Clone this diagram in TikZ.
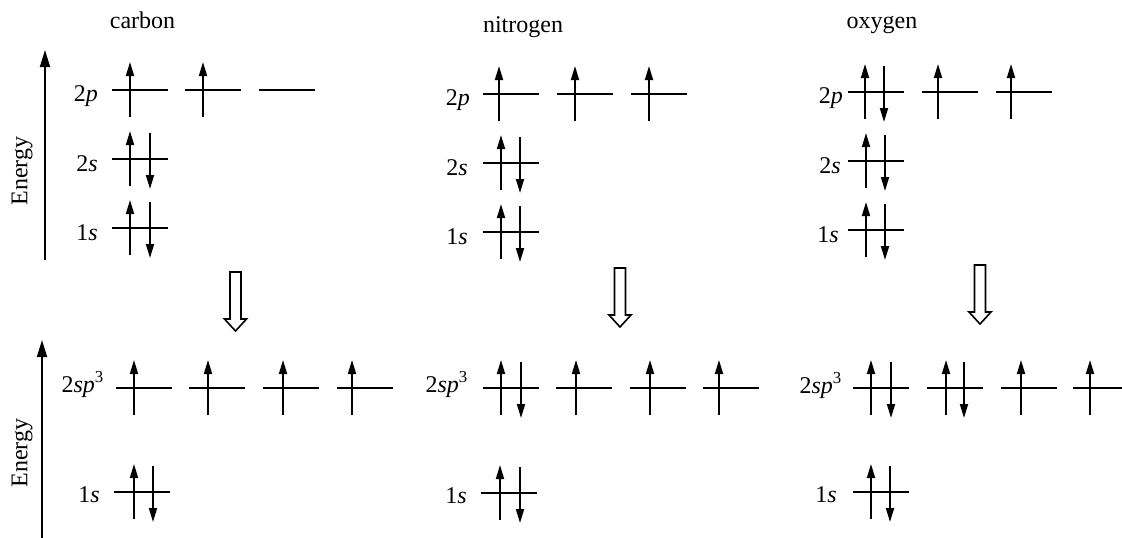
\documentclass[tikz,border=0pt]{standalone}
\usepackage{fontspec}
\setmainfont{Liberation Serif}
\usetikzlibrary{arrows.meta}

% one orbital level, and the two spins drawn on it
\newcommand{\lvl}[2]{\draw[level] (#1,#2) -- ++(56,0);}
\newcommand{\eup}[2]{\draw[spin] (#1,#2+27) -- (#1,#2-28);}
\newcommand{\edn}[2]{\draw[spin] (#1,#2-26) -- (#1,#2+30);}

\begin{document}
\begin{tikzpicture}[
  x=1pt, y=-1pt,
  every node/.style={font=\fontsize{24}{28}\selectfont, inner sep=0pt},
  level/.style={line width=2.2pt},
  spin/.style={-{Triangle[length=14pt, width=8pt]}, line width=1.8pt},
  axis/.style={-{Triangle[length=17pt, width=10pt]}, line width=1.8pt},
  hollow/.style={draw, line width=1.6pt, fill=white, line join=miter},
  title/.style={anchor=base},
  orblbl/.style={anchor=base east},
  bigdown/.pic={\draw[hollow] (-5.5,0) -- (5.5,0) -- (5.5,47) -- (11,47)
    -- (0,59) -- (-11,47) -- (-5.5,47) -- cycle;},
]
\useasboundingbox (0,0) rectangle (1122,538);

% Titles
\node[title] (tcarbon) at (142.5,28) {carbon};
\node[title] (tnitrogen) at (523,32) {nitrogen};
\node[title] (toxygen) at (882,28) {oxygen};

% Energy axes
\draw[axis] (45,260) -- (45,50);
\node[rotate=90] (energytop) at (22,171) {Energy};
\draw[axis] (42,538) -- (42,340);
\node[rotate=90] (energybot) at (22,453) {Energy};

% Carbon, ground state
\node[orblbl] (c2p) at (98,101) {2\textit{p}};
\node[orblbl] (c2s) at (98,171) {2\textit{s}};
\node[orblbl] (c1s) at (98,240) {1\textit{s}};
\lvl{112}{90} \lvl{185}{90} \lvl{259}{90}
\eup{130}{90} \eup{203}{90}
\lvl{112}{159} \eup{130}{159} \edn{150}{159}
\lvl{112}{228} \eup{130}{228} \edn{150}{228}

% Nitrogen, ground state
\node[orblbl] (n2p) at (470,105) {2\textit{p}};
\node[orblbl] (n2s) at (468,175) {2\textit{s}};
\node[orblbl] (n1s) at (468,244) {1\textit{s}};
\lvl{483}{94} \lvl{557}{94} \lvl{631}{94}
\eup{499}{94} \eup{575}{94} \eup{649}{94}
\lvl{483}{163} \eup{501}{163} \edn{520}{163}
\lvl{483}{232} \eup{501}{232} \edn{520}{232}

% Oxygen, ground state
\node[orblbl] (o2p) at (843,103) {2\textit{p}};
\node[orblbl] (o2s) at (841,173) {2\textit{s}};
\node[orblbl] (o1s) at (839,242) {1\textit{s}};
\lvl{848}{92} \lvl{922}{92} \lvl{996}{92}
\eup{865}{92} \edn{884}{92} \eup{938}{92} \eup{1011}{92}
\lvl{848}{161} \eup{866}{161} \edn{885}{161}
\lvl{848}{230} \eup{866}{230} \edn{885}{230}

% Hybridisation arrows
\pic at (235.5,272) {bigdown};
\pic at (620,268) {bigdown};
\pic at (980,265) {bigdown};

% Carbon, sp3
\node[orblbl] (csp) at (104,392) {2\textit{sp}\textsuperscript{3}};
\node[orblbl] (c1sb) at (100,502) {1\textit{s}};
\lvl{116}{388} \lvl{189}{388} \lvl{263}{388} \lvl{337}{388}
\eup{134}{388} \eup{208}{388} \eup{283}{388} \eup{352}{388}
\lvl{114}{492} \eup{134}{492} \edn{153}{492}

% Nitrogen, sp3
\node[orblbl] (nsp) at (468,392) {2\textit{sp}\textsuperscript{3}};
\node[orblbl] (n1sb) at (467,503) {1\textit{s}};
\lvl{483}{388} \lvl{556}{388} \lvl{630}{388} \lvl{703}{388}
\eup{501}{388} \edn{521}{388} \eup{576}{388} \eup{650}{388} \eup{719}{388}
\lvl{481}{493} \eup{500}{493} \edn{520}{493}

% Oxygen, sp3
\node[orblbl] (osp) at (842,393) {2\textit{sp}\textsuperscript{3}};
\node[orblbl] (o1sb) at (837,502) {1\textit{s}};
\lvl{853}{388} \lvl{927}{388} \lvl{1001}{388} \lvl{1073}{388}
\eup{871}{388} \edn{891}{388} \eup{946}{388} \edn{964}{388}
\eup{1021}{388} \eup{1090}{388}
\lvl{853}{492} \eup{871}{492} \edn{890}{492}

\end{tikzpicture}
\end{document}
